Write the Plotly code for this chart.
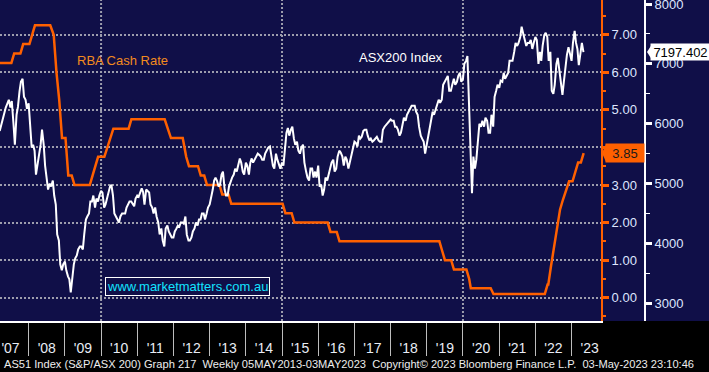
import pandas as pd
import plotly.graph_objects as go

# ---------------- data ----------------
# ASX200 index, semi-monthly readings (1st and 15th of each month)
asx_2007 = [5880, 5990, 6120, 6200, 6270, 6340, 6400, 6270, 6380, 6000, 5650, 6150, 6280, 6540, 6700, 6750, 6450, 6400, 6250]
asx_2008 = [6340, 5950, 5600, 5650, 5550, 5150, 5350, 5450, 5650, 5900, 5650, 5300, 5100, 4900, 5000, 4950, 5050, 4800, 4650, 4150, 4050, 3650, 3550, 3650]
asx_2009 = [3700, 3550, 3450, 3400, 3180, 3450, 3650, 3750, 3800, 3900, 3950, 3950, 3900, 4150, 4400, 4450, 4500, 4700, 4700, 4800, 4600, 4750, 4700, 4800]
asx_2010 = [4880, 4850, 4600, 4650, 4750, 4850, 4950, 4980, 4800, 4500, 4450, 4400, 4350, 4450, 4500, 4500, 4500, 4600, 4650, 4700, 4700, 4650, 4620, 4750]
asx_2011 = [4800, 4780, 4850, 4920, 4860, 4650, 4900, 4880, 4850, 4650, 4600, 4500, 4600, 4450, 4350, 4150, 4250, 4050, 3950, 4250, 4300, 4200, 4150, 4100]
asx_2012 = [4100, 4200, 4250, 4300, 4280, 4350, 4350, 4330, 4450, 4150, 4050, 4050, 4100, 4200, 4250, 4350, 4300, 4400, 4400, 4500, 4500, 4400, 4500, 4600]
asx_2013 = [4650, 4750, 4900, 5050, 5100, 5050, 4950, 4980, 5150, 5200, 4900, 4800, 4800, 4950, 5050, 5100, 5150, 5250, 5200, 5300, 5420, 5350, 5200, 5150]
asx_2014 = [5350, 5300, 5150, 5350, 5420, 5350, 5400, 5450, 5500, 5480, 5450, 5400, 5400, 5500, 5550, 5600, 5620, 5450, 5300, 5250, 5500, 5400, 5300, 5250]
asx_2015 = [5350, 5300, 5600, 5850, 5930, 5800, 5900, 5950, 5750, 5650, 5700, 5550, 5500, 5600, 5650, 5350, 5200, 5100, 5050, 5250, 5250, 5100, 5200, 5100]
asx_2016 = [5300, 4950, 4980, 4800, 4900, 5100, 5050, 5150, 5250, 5350, 5400, 5200, 5250, 5450, 5550, 5520, 5450, 5300, 5450, 5400, 5250, 5350, 5450, 5600]
asx_2017 = [5700, 5680, 5620, 5800, 5750, 5780, 5880, 5900, 5900, 5800, 5720, 5750, 5700, 5720, 5750, 5780, 5720, 5700, 5700, 5900, 5950, 5980, 6000, 6050]
asx_2018 = [6070, 6050, 6050, 5950, 5950, 5900, 5800, 5850, 6000, 6100, 6050, 6150, 6200, 6250, 6300, 6300, 6300, 6200, 6150, 5950, 5800, 5750, 5700, 5500]
asx_2019 = [5650, 5800, 5950, 6050, 6200, 6150, 6250, 6300, 6400, 6350, 6400, 6650, 6700, 6750, 6800, 6550, 6550, 6650, 6750, 6650, 6700, 6800, 6850, 6700]
asx_2020 = [6750, 7000, 7050, 7130, 6400, 5500, 4840, 5450, 5250, 5400, 5800, 6000, 5950, 6050, 5950, 6100, 6050, 5850, 5850, 6150, 5950, 6450, 6550, 6650]
asx_2021 = [6600, 6720, 6700, 6850, 6750, 6800, 6850, 7050, 7050, 7050, 7200, 7350, 7300, 7350, 7450, 7620, 7500, 7400, 7300, 7350, 7350, 7400, 7250, 7350]
asx_2022 = [7450, 7400, 7000, 7200, 7050, 7300, 7480, 7520, 7450, 7050, 7200, 6550, 6500, 6650, 7000, 7100, 6900, 6750, 6480, 6700, 7000, 7150, 7280, 7150]
asx_2023 = [7050, 7350, 7550, 7350, 7250, 6980, 7200, 7350, 7197.402]

asx_years = list(range(2007, 2024))
asx_by_year = [asx_2007, asx_2008, asx_2009, asx_2010, asx_2011, asx_2012, asx_2013, asx_2014,
               asx_2015, asx_2016, asx_2017, asx_2018, asx_2019, asx_2020, asx_2021, asx_2022, asx_2023]

# RBA cash rate: change dates and new target rate (%)
rate_dates = ["2007-03-01", "2007-08-08", "2007-11-07", "2008-02-06", "2008-03-05", "2008-09-03",
              "2008-10-08", "2008-11-05", "2008-12-03", "2009-02-04", "2009-04-08", "2009-10-07",
              "2009-11-04", "2009-12-02", "2010-03-03", "2010-04-07", "2010-05-05", "2010-11-03",
              "2011-11-02", "2011-12-07", "2012-05-02", "2012-06-06", "2012-10-03", "2012-12-05",
              "2013-05-08", "2013-08-07", "2015-02-04", "2015-05-06", "2016-05-04", "2016-08-03",
              "2019-06-05", "2019-07-03", "2019-10-02", "2020-03-04", "2020-03-20", "2020-11-04",
              "2022-05-04", "2022-06-08", "2022-07-06", "2022-08-03", "2022-09-07", "2022-10-05",
              "2022-11-02", "2022-12-07", "2023-02-08", "2023-03-08", "2023-05-03"]
rate_values = [6.25, 6.50, 6.75, 7.00, 7.25, 7.00,
               6.00, 5.25, 4.25, 3.25, 3.00, 3.25,
               3.50, 3.75, 4.00, 4.25, 4.50, 4.75,
               4.50, 4.25, 3.75, 3.50, 3.25, 3.00,
               2.75, 2.50, 2.25, 2.00, 1.75, 1.50,
               1.25, 1.00, 0.75, 0.50, 0.25, 0.10,
               0.35, 0.85, 1.35, 1.85, 2.35, 2.60,
               2.85, 3.10, 3.35, 3.60, 3.85]

year_labels = ["'07", "'08", "'09", "'10", "'11", "'12", "'13", "'14", "'15",
               "'16", "'17", "'18", "'19", "'20", "'21", "'22", "'23"]
year_list = list(range(2007, 2024))
rate_ticks = [0, 1, 2, 3, 4, 5, 6, 7]
asx_ticks = [3000, 4000, 5000, 6000, 7000, 8000]
vgrid_dates = ["2010-01-01", "2015-01-01", "2020-01-01"]

footer = ("AS51 Index (S&P/ASX 200) Graph 217  Weekly 05MAY2013-03MAY2023  "
          "Copyright\u00a9 2023 Bloomberg Finance L.P.  03-May-2023 23:10:46")

# ---------------- build series ----------------
parts = []
for y, vals in zip(asx_years, asx_by_year):
    start = "2007-03-15" if y == 2007 else f"{y}-01-01"
    parts.append(pd.Series(vals, index=pd.date_range(start, periods=len(vals), freq="SMS")))
asx = pd.concat(parts)
last_asx = asx.iloc[-1]
last_rate = rate_values[-1]

# rate path: each level is held until about a month before the next decision,
# then the line moves to the new level (as in a monthly-sampled rate chart)
rd = pd.to_datetime(rate_dates)
rate_x, rate_y = [], []
for i, (d, v) in enumerate(zip(rd, rate_values)):
    rate_x.append(d)
    rate_y.append(v)
    if i + 1 < len(rd):
        hold_end = rd[i + 1] - pd.Timedelta(days=28)
        if hold_end > d:
            rate_x.append(hold_end)
            rate_y.append(v)

# ---------------- styling ----------------
W, H = 709, 372
PLOT_R = 601 / W
AX2_POS = 645 / W
NAVY = "#100f48"
ORANGE = "#ff6000"
GRID = "#9d9dad"
TICKTXT = "#dfe6ff"
FONT = "Liberation Sans"
px = lambda v: v / W
py = lambda v: (321 - v) / 321

fig = go.Figure()
fig.add_trace(go.Scatter(x=rate_x, y=rate_y, mode="lines", line=dict(color=ORANGE, width=2.5),
                         yaxis="y", hoverinfo="skip"))
fig.add_trace(go.Scatter(x=asx.index, y=asx.values, mode="lines", line=dict(color="white", width=2),
                         yaxis="y2", hoverinfo="skip"))

fig.update_layout(
    template="none",
    width=W, height=H,
    margin=dict(l=0, r=0, t=0, b=51, pad=0),
    paper_bgcolor="black",
    plot_bgcolor=NAVY,
    showlegend=False,
    xaxis=dict(
        domain=[0, PLOT_R], range=["2007-03-18", "2023-10-25"], automargin=False,
        showline=True, linecolor="white", linewidth=1.5, showgrid=False, zeroline=False,
        tickmode="array", tickvals=[f"{y}-07-02" for y in year_list], ticktext=year_labels,
        ticks="", ticklabelstandoff=13, tickfont=dict(family=FONT, size=14, color="#e8ecf5"),
        minor=dict(tickmode="array", tickvals=[f"{y}-01-01" for y in year_list],
                   ticks="outside", ticklen=33, tickcolor="#bdbdbd", tickwidth=1, showgrid=False),
    ),
    yaxis=dict(
        anchor="x", side="right", range=[-0.620, 7.924], automargin=False, ticklabeloverflow="allow",
        tickmode="array", tickvals=rate_ticks,
        ticktext=["" if v == 4 else f"{v:.2f}" for v in rate_ticks],
        ticks="outside", ticklen=6, tickwidth=3, tickcolor=ORANGE,
        showline=True, linecolor=ORANGE, linewidth=2,
        showgrid=True, gridcolor=GRID, gridwidth=2, griddash="2px,2px", zeroline=False,
        tickfont=dict(family=FONT, size=13, color=TICKTXT),
        minor=dict(dtick=0.5, tick0=0, ticks="outside", ticklen=3, tickcolor=ORANGE, tickwidth=1.5, showgrid=False),
    ),
    yaxis2=dict(
        overlaying="y", anchor="free", position=AX2_POS, side="right", range=[2704, 8067], automargin=False,
        ticklabeloverflow="allow",
        tickmode="array", tickvals=asx_ticks, ticktext=[str(v) for v in asx_ticks],
        ticks="outside", ticklen=6, tickwidth=3, tickcolor="white",
        showline=True, linecolor="white", linewidth=2, showgrid=False, zeroline=False,
        tickfont=dict(family=FONT, size=13, color=TICKTXT),
        minor=dict(dtick=500, tick0=0, ticks="outside", ticklen=4, tickcolor="white", tickwidth=1, showgrid=False),
    ),
)

shapes = [dict(type="rect", xref="paper", yref="paper", x0=0, x1=1, y0=0, y1=1,
               fillcolor=NAVY, line=dict(width=0), layer="below")]
for d in vgrid_dates:
    shapes.append(dict(type="line", xref="x", yref="paper", x0=d, x1=d, y0=0, y1=1,
                       line=dict(color=GRID, width=2, dash="2px,2px"), layer="below"))
# pointer triangles of the last-value labels
h_rate = 0.24
shapes.append(dict(type="path", xref="paper", yref="y",
                   path=f"M {px(602)},{last_rate} L {px(606)},{last_rate + h_rate} L {px(606)},{last_rate - h_rate} Z",
                   fillcolor=ORANGE, line=dict(width=0), layer="above"))
h_asx = 130
shapes.append(dict(type="path", xref="paper", yref="y2",
                   path=f"M {px(647)},{last_asx} L {px(652)},{last_asx + h_asx} L {px(652)},{last_asx - h_asx} Z",
                   fillcolor="white", line=dict(width=0), layer="above"))
fig.update_layout(shapes=shapes)

annotations = [
    dict(text="RBA Cash Rate", xref="paper", yref="paper", x=px(122.5), y=py(60.5), showarrow=False,
         font=dict(family=FONT, size=13, color="#f28b1e"), xanchor="center", yanchor="middle"),
    dict(text="ASX200 Index", xref="paper", yref="paper", x=px(400.5), y=py(57), showarrow=False,
         font=dict(family=FONT, size=13, color="white"), xanchor="center", yanchor="middle"),
    dict(text="www.marketmatters.com.au", xref="paper", yref="paper", x=px(188), y=py(286), showarrow=False,
         font=dict(family=FONT, size=13, color="#12e3ff"), xanchor="center", yanchor="middle",
         bgcolor=NAVY, bordercolor="white", borderwidth=1, borderpad=1),
    dict(text=f"{last_rate:.2f}", xref="paper", yref="y", x=px(605), y=last_rate, showarrow=False,
         font=dict(family=FONT, size=13, color="#1a1a1a"), xanchor="left", yanchor="middle",
         bgcolor=ORANGE, width=36, height=16, borderpad=1, align="center"),
    dict(text=f"{last_asx:.3f}", xref="paper", yref="y2", x=px(650), y=last_asx, showarrow=False,
         font=dict(family=FONT, size=13, color="black"), xanchor="left", yanchor="middle",
         bgcolor="white", width=57, height=14, borderpad=1, align="center"),
    dict(text=footer, xref="paper", yref="paper", x=px(2), y=py(364), showarrow=False,
         font=dict(family=FONT, size=11.1, color="#eeeeee"), xanchor="left", yanchor="middle"),
]
fig.update_layout(annotations=annotations)

fig.write_html("out.html", config={"displayModeBar": False},
               post_script="document.body.style.margin='0';document.body.style.padding='0';")
